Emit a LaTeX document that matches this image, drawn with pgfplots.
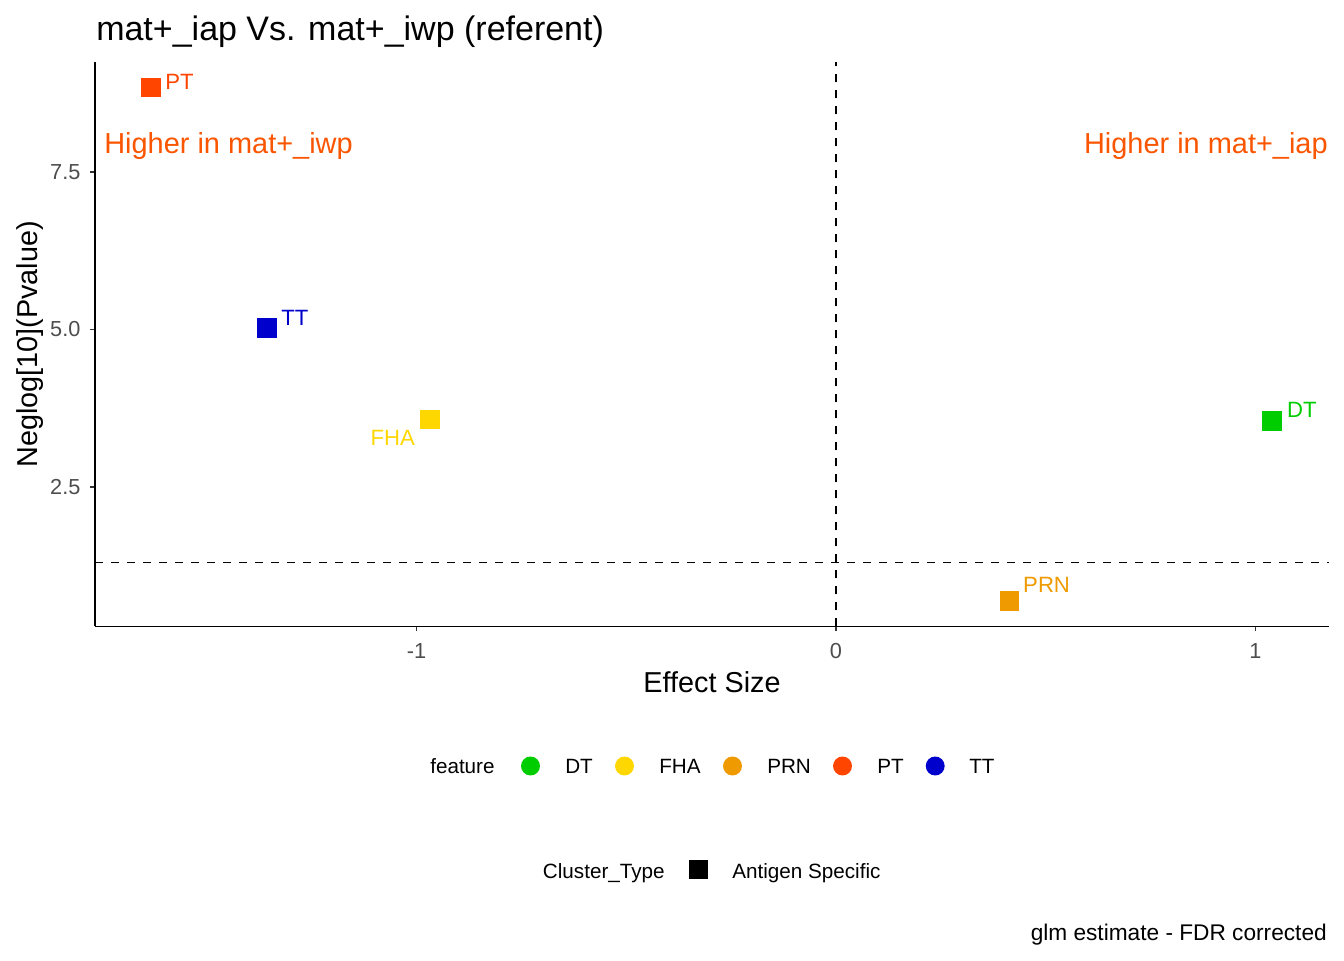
\documentclass[border=0pt]{standalone}
\usepackage{pgfplots}
\pgfplotsset{compat=1.18}
\usepackage{fontspec}
\setmainfont{Liberation Sans}
\definecolor{cDT}{HTML}{00CD00}
\definecolor{cFHA}{HTML}{FFD700}
\definecolor{cPRN}{HTML}{EE9A00}
\definecolor{cPT}{HTML}{FF4500}
\definecolor{cTT}{HTML}{0000CD}
\definecolor{cAnn}{HTML}{FA5500}
\definecolor{tickgrey}{HTML}{4D4D4D}
\begin{document}
\begin{tikzpicture}
\path[use as bounding box] (0pt,0pt) rectangle (1008pt,720pt);
\begin{axis}[
  at={(71.25pt,250.125pt)}, anchor=south west,
  scale only axis, width=925.5pt, height=423.4pt,
  xmin=-1.7668, xmax=1.1755, ymin=0.2857, ymax=9.246,
  axis lines=left, axis line style={-, line width=1.2pt, black},
  xtick={-1,0,1}, xticklabels={-1,0,1},
  ytick={2.5,5,7.5}, yticklabels={2.5,5.0,7.5},
  tick align=outside, major tick length=3.75pt,
  tick style={line width=1.1pt, color=black!80},
  xticklabel style={font=\fontsize{16.3}{19}\selectfont, text=tickgrey, inner sep=0pt, anchor=north, yshift=-9pt},
  yticklabel style={font=\fontsize{16.3}{19}\selectfont, text=tickgrey, inner sep=0pt, anchor=east, xshift=-7pt},
  clip=false,
]
\addplot[black, line width=1.4pt, dash pattern=on 6pt off 6pt] coordinates {(0,0.2857) (0,9.246)};
\addplot[black, line width=1.4pt, dash pattern=on 6pt off 6pt] coordinates {(-1.7668,1.30103) (1.1755,1.30103)};
\addplot[only marks, mark=square*, mark size=7.1pt, color=cDT, mark options={line width=0pt, draw=cDT, fill=cDT}] coordinates {(1.0405,3.543)};
\addplot[only marks, mark=square*, mark size=7.1pt, color=cFHA, mark options={line width=0pt, draw=cFHA, fill=cFHA}] coordinates {(-0.969,3.571)};
\addplot[only marks, mark=square*, mark size=7.1pt, color=cPRN, mark options={line width=0pt, draw=cPRN, fill=cPRN}] coordinates {(0.4136,0.686)};
\addplot[only marks, mark=square*, mark size=7.1pt, color=cPT, mark options={line width=0pt, draw=cPT, fill=cPT}] coordinates {(-1.634,8.841)};
\addplot[only marks, mark=square*, mark size=7.1pt, color=cTT, mark options={line width=0pt, draw=cTT, fill=cTT}] coordinates {(-1.3576,5.02)};
\node[anchor=west, inner sep=0pt, text=cPT, font=\fontsize{16.6}{20}\selectfont] at (axis cs:-1.5995,8.929) {PT};
\node[anchor=west, inner sep=0pt, text=cTT, font=\fontsize{16.6}{20}\selectfont] at (axis cs:-1.323,5.19) {TT};
\node[anchor=east, inner sep=0pt, text=cFHA, font=\fontsize{16.6}{20}\selectfont] at (axis cs:-1.0036,3.278) {FHA};
\node[anchor=west, inner sep=0pt, text=cDT, font=\fontsize{16.6}{20}\selectfont] at (axis cs:1.075,3.722) {DT};
\node[anchor=west, inner sep=0pt, text=cPRN, font=\fontsize{16.6}{20}\selectfont] at (axis cs:0.4458,0.944) {PRN};
\node[anchor=base west, inner sep=0pt, text=cAnn, font=\fontsize{21.7}{26}\selectfont] at (axis cs:-1.7453,7.786) {Higher in mat+\_iwp};
\node[anchor=base east, inner sep=0pt, text=cAnn, font=\fontsize{21.7}{26}\selectfont] at (axis cs:1.1731,7.786) {Higher in mat+\_iap};
\end{axis}
\begin{scope}[shift={(0pt,720pt)}, x=0.75pt, y=-0.75pt]
\node[anchor=base west, inner sep=0pt, font=\fontsize{25.5}{30}\selectfont] at (96,40.5) {mat+\_iap Vs. mat+\_iwp (referent)};
\node[anchor=base, inner sep=0pt, font=\fontsize{21.6}{26}\selectfont] at (712,693) {Effect Size};
\node[anchor=base, rotate=90, inner sep=0pt, font=\fontsize{21.6}{26}\selectfont] at (37.3,344.5) {Neglog[10](Pvalue)};
% legend row 1
\node[anchor=base west, inner sep=0pt, font=\fontsize{15.5}{18}\selectfont] at (430,773) {feature};
\fill[cDT] (530.5,766) circle[radius=7.1pt];
\node[anchor=base west, inner sep=0pt, font=\fontsize{15.5}{18}\selectfont] at (565,773) {DT};
\fill[cFHA] (624.5,766) circle[radius=7.1pt];
\node[anchor=base west, inner sep=0pt, font=\fontsize{15.5}{18}\selectfont] at (659,773) {FHA};
\fill[cPRN] (732.5,766) circle[radius=7.1pt];
\node[anchor=base west, inner sep=0pt, font=\fontsize{15.5}{18}\selectfont] at (767,773) {PRN};
\fill[cPT] (842.5,766) circle[radius=7.1pt];
\node[anchor=base west, inner sep=0pt, font=\fontsize{15.5}{18}\selectfont] at (877,773) {PT};
\fill[cTT] (935.2,766) circle[radius=7.1pt];
\node[anchor=base west, inner sep=0pt, font=\fontsize{15.5}{18}\selectfont] at (969,773) {TT};
% legend row 2
\node[anchor=base west, inner sep=0pt, font=\fontsize{15.5}{18}\selectfont] at (542.7,878) {Cluster\_Type};
\fill[black] (689,859.5) rectangle (708,878.5);
\node[anchor=base west, inner sep=0pt, font=\fontsize{15.5}{18}\selectfont] at (732,878) {Antigen Specific};
% caption
\node[anchor=base east, inner sep=0pt, font=\fontsize{17}{20}\selectfont] at (1327,940) {glm estimate - FDR corrected};
\end{scope}
\end{tikzpicture}
\end{document}
